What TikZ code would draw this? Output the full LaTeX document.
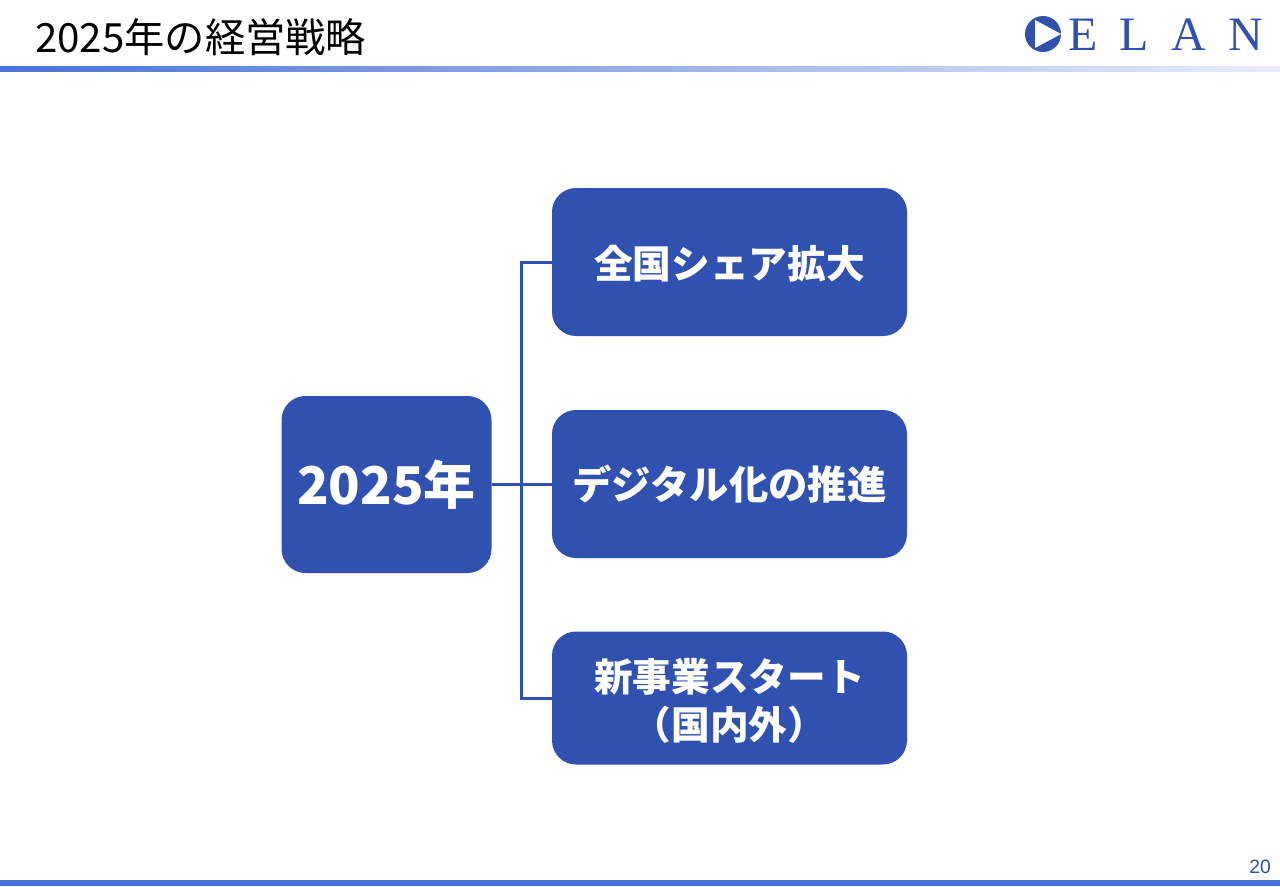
\documentclass[tikz,border=0pt]{standalone}
\usepackage{fontspec}
\setmainfont{Noto Sans CJK JP}
\newfontfamily\logofont{Liberation Serif}
\newfontfamily\pagefont{Liberation Sans}
\definecolor{elanblue}{HTML}{3051B0}
\definecolor{barblue}{HTML}{4A72D6}
\definecolor{barpale}{HTML}{E8EDFB}
\begin{document}
\begin{tikzpicture}[x=0.75pt, y=-0.75pt]
\tikzset{headline/.style =
        {
            anchor=base west,
            inner sep=0pt,
            text=black,
            font=\fontsize{30.2}{36}\selectfont
        }
}

\tikzset{strategy/.style =
        {
            shape=rectangle,
            rounded corners=18pt,
            fill=elanblue,
            text=white,
            align=center,
            inner sep=0pt,
            minimum width=266.25pt,
            font=\fontsize{29}{36}\selectfont\bfseries
        }
}

\tikzset{year/.style =
        {
            strategy,
            minimum width=157.5pt,
            minimum height=132.75pt,
            font=\fontsize{39}{48}\selectfont\bfseries
        }
}

\tikzset{link/.style =
        {
            line width=2.25pt,
            elanblue
        }
}

\tikzset{logoletter/.style =
        {
            anchor=base,
            inner sep=0pt,
            text=elanblue,
            font=\logofont\fontsize{36}{36}\selectfont
        }
}
		\useasboundingbox (0,0) rectangle (1280,886);

		% bars
		\fill[left color=barblue, right color=barpale] (0,66) rectangle (1280,71);
		\fill[barblue] (0,880) rectangle (1280,886);

		\node[headline] (title) at (35,52) {2025年の経営戦略};

		% logo
		\fill[elanblue] (1043,34) circle [radius=18];
		\fill[white] (1035,20) -- (1061,34) -- (1035,48) -- cycle;
		\foreach \letter / \x in {E/1083.5, L/1134.5, A/1188.5, N/1246}
		\node[logoletter] (logo-\letter) at (\x,50) {\letter};

		\node[year] (year) at (386.5,484.5) {2025年};
		\node[strategy, minimum height=111pt] (share) at (729.5,262) {\rule{0pt}{27pt}全国シェア拡大};
		\node[strategy, minimum height=111pt, font=\fontsize{29.5}{36}\selectfont\bfseries] (digital) at (729.5,484) {デジタル化の推進};
		\node[strategy, minimum height=99.75pt] (business) at (729.5,698) {\rule{0pt}{29.5pt}新事業スタート\\（国内外）};

		\coordinate (junction) at (521.5,484);

		\draw[link] (year.east |- digital) -- (digital.west);
		\draw[link] (share.west) -| (junction) |- (business.west);

		\node[inner sep=0pt, text=elanblue, font=\pagefont\fontsize{14.5}{16}\selectfont] (pagenum) at (1260,867) {20};
	\end{tikzpicture}
\end{document}
